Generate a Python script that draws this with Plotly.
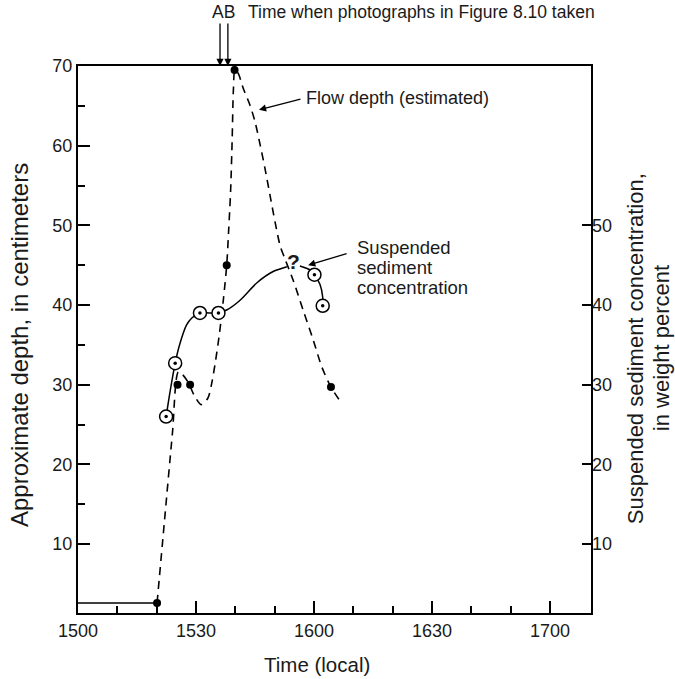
import plotly.graph_objects as go

# Time in minutes after 1500 local time
x_tickvals = [0, 30, 60, 90, 120]
x_ticktext = ["1500", "1530", "1600", "1630", "1700"]
x_minor = [10, 20, 40, 50, 70, 80, 100, 110]

# Baseline (flow depth before the surge)
base_t = [0, 20.1]
base_depth = [2.6, 2.6]

# Estimated flow-depth curve (cm)
flow_t = [20.1, 22.0, 24.0, 25.5, 26.5, 28.0, 29.5, 31.3, 33.0, 34.0, 35.0, 36.0,
          37.0, 37.8, 38.3, 38.8, 39.2, 39.5, 39.9, 40.7, 42.0, 43.7, 45.0, 46.3,
          47.5, 48.8, 50.1, 51.4, 52.6, 54.7, 57.2, 59.8, 62.0, 64.3, 66.4]
flow_depth = [2.6, 13.0, 23.9, 31.6, 31.3, 30.3, 28.7, 27.5, 28.3, 30.2, 33.1, 36.6,
              40.9, 45.0, 49.4, 54.4, 61.0, 67.0, 69.5, 69.1, 67.2, 65.1, 63.0, 60.1,
              57.2, 53.8, 50.4, 47.4, 45.8, 43.1, 39.4, 35.6, 32.2, 29.7, 28.1]

# Measured flow depths (filled dots)
depth_obs_t = [20.1, 25.3, 28.5, 37.8, 39.8, 64.3]
depth_obs = [2.6, 30.0, 30.0, 45.0, 69.5, 29.7]

# Suspended sediment concentration curve (weight percent)
conc_t = [22.4, 23.5, 24.7, 25.7, 27.6, 29.0, 31.0, 33.3, 35.7, 37.9, 41.2, 45.5,
          49.6, 53.1, None, 56.4, 59.0, 60.1, 61.5, 62.2, 62.2]
conc = [26.0, 29.4, 32.7, 34.8, 37.5, 38.4, 39.0, 39.0, 39.0, 39.4, 40.6, 42.8,
        44.2, 44.8, None, 44.9, 44.4, 43.8, 42.6, 41.0, 39.9]

# Measured concentrations (open circles with dot)
conc_obs_t = [22.4, 24.7, 31.0, 35.7, 60.1, 62.2]
conc_obs = [26.0, 32.7, 39.0, 39.0, 43.8, 39.9]

# Photo times A and B
photo_t = [36.1, 38.1]

conc_label_lines = ["Suspended", "sediment", "concentration"]
conc_label_y = [47.2, 44.7, 42.2]
right_title_lines = ["Suspended sediment concentration,", "in weight percent"]
right_title_x = [1.0857, 1.1364]

FONT = "Liberation Sans, Arial, Helvetica, sans-serif"
INK = "#1a1a1a"

fig = go.Figure()
fig.add_trace(go.Scatter(x=base_t, y=base_depth, mode="lines",
                         line=dict(color="black", width=1.5), hoverinfo="skip"))
fig.add_trace(go.Scatter(x=flow_t, y=flow_depth, mode="lines",
                         line=dict(color="black", width=1.6, dash="8px,6px",
                                   shape="spline", smoothing=0.8)))
fig.add_trace(go.Scatter(x=conc_t, y=conc, mode="lines", yaxis="y2",
                         connectgaps=False,
                         line=dict(color="black", width=1.5, shape="spline", smoothing=0.8)))
fig.add_trace(go.Scatter(x=depth_obs_t, y=depth_obs, mode="markers",
                         marker=dict(color="black", size=8)))
fig.add_trace(go.Scatter(x=conc_obs_t, y=conc_obs, mode="markers", yaxis="y2",
                         marker=dict(color="white", size=13,
                                     line=dict(color="black", width=1.5))))
fig.add_trace(go.Scatter(x=conc_obs_t, y=conc_obs, mode="markers", yaxis="y2",
                         marker=dict(color="black", size=3.5)))

annotations = []
for t in photo_t:
    annotations.append(dict(x=t, y=1.0, xref="x", yref="paper", text="",
                            showarrow=True, ax=0, ay=-44, arrowhead=2,
                            arrowsize=1.1, arrowwidth=1.3, arrowcolor="black"))
annotations += [
    dict(x=sum(photo_t) / 2, y=1.0987, xref="x", yref="paper", text="AB",
         showarrow=False, font=dict(size=17.5, color=INK, family=FONT),
         xanchor="center", yanchor="middle"),
    dict(x=42.7, y=1.0987, xref="x", yref="paper",
         text="Time when photographs in Figure 8.10 taken",
         showarrow=False, font=dict(size=17.5, color=INK, family=FONT),
         xanchor="left", yanchor="middle"),
    dict(x=46.0, y=64.5, xref="x", yref="y", text="", showarrow=True,
         ax=43, ay=-11, arrowhead=2, arrowsize=1.1, arrowwidth=1.3, arrowcolor="black"),
    dict(x=57.4, y=66.0, xref="x", yref="y", text="Flow depth (estimated)",
         showarrow=False, font=dict(size=18, color=INK, family=FONT),
         xanchor="left", yanchor="middle"),
    dict(x=58.5, y=45.0, xref="x", yref="y", text="", showarrow=True,
         ax=40, ay=-12, arrowhead=2, arrowsize=1.1, arrowwidth=1.3, arrowcolor="black"),
    dict(x=54.7, y=45.4, xref="x", yref="y", text="<b>?</b>",
         showarrow=False, font=dict(size=21, color=INK, family=FONT),
         xanchor="center", yanchor="middle"),
    dict(x=-0.113, y=0.49, xref="paper", yref="paper",
         text="Approximate depth, in centimeters", textangle=-90,
         xanchor="center", yanchor="middle",
         showarrow=False, font=dict(size=24, color=INK, family=FONT)),
    dict(x=0.466, y=-0.095, xref="paper", yref="paper", text="Time (local)",
         xanchor="center", yanchor="middle",
         showarrow=False, font=dict(size=20.5, color=INK, family=FONT)),
]
for line, yv in zip(conc_label_lines, conc_label_y):
    annotations.append(dict(x=70.4, y=yv, xref="x", yref="y", text=line,
                            showarrow=False, font=dict(size=18.5, color=INK, family=FONT),
                            xanchor="left", yanchor="middle"))
for line, xv in zip(right_title_lines, right_title_x):
    annotations.append(dict(x=xv, y=0.484, xref="paper", yref="paper", text=line,
                            textangle=-90, xanchor="center", yanchor="middle",
                            showarrow=False, font=dict(size=22, color=INK, family=FONT)))

fig.update_layout(
    width=675, height=679,
    margin=dict(l=78, r=84, t=66, b=66),
    paper_bgcolor="white", plot_bgcolor="white",
    showlegend=False,
    font=dict(family=FONT, size=18, color=INK),
    annotations=annotations,
    xaxis=dict(range=[0, 130.4], tickmode="array", tickvals=x_tickvals,
               ticktext=x_ticktext, ticks="inside", ticklen=12, tickwidth=2,
               tickcolor="black", showline=True, linewidth=2, linecolor="black",
               mirror=True, showgrid=False, zeroline=False,
               tickfont=dict(size=18, color=INK),
               minor=dict(tickmode="array", tickvals=x_minor, ticks="inside",
                          ticklen=7, tickwidth=1.5, tickcolor="black", showgrid=False)),
    yaxis=dict(range=[1.34, 70], tickmode="array", tickvals=[10, 20, 30, 40, 50, 60, 70],
               ticks="inside", ticklen=12, tickwidth=2, tickcolor="black",
               showline=True, linewidth=2, linecolor="black", mirror=True,
               showgrid=False, zeroline=False, tickfont=dict(size=18, color=INK),
               minor=dict(tickmode="array", tickvals=[15, 25, 35, 45, 55, 65],
                          ticks="inside", ticklen=7, tickwidth=1.5, tickcolor="black",
                          showgrid=False)),
    yaxis2=dict(range=[1.34, 70], overlaying="y", side="right", tickmode="array",
                tickvals=[10, 20, 30, 40, 50], ticks="inside", ticklen=9, tickwidth=2,
                tickcolor="black", showline=False, showgrid=False, zeroline=False,
                tickfont=dict(size=18, color=INK)),
)

fig.write_html("out.html")
